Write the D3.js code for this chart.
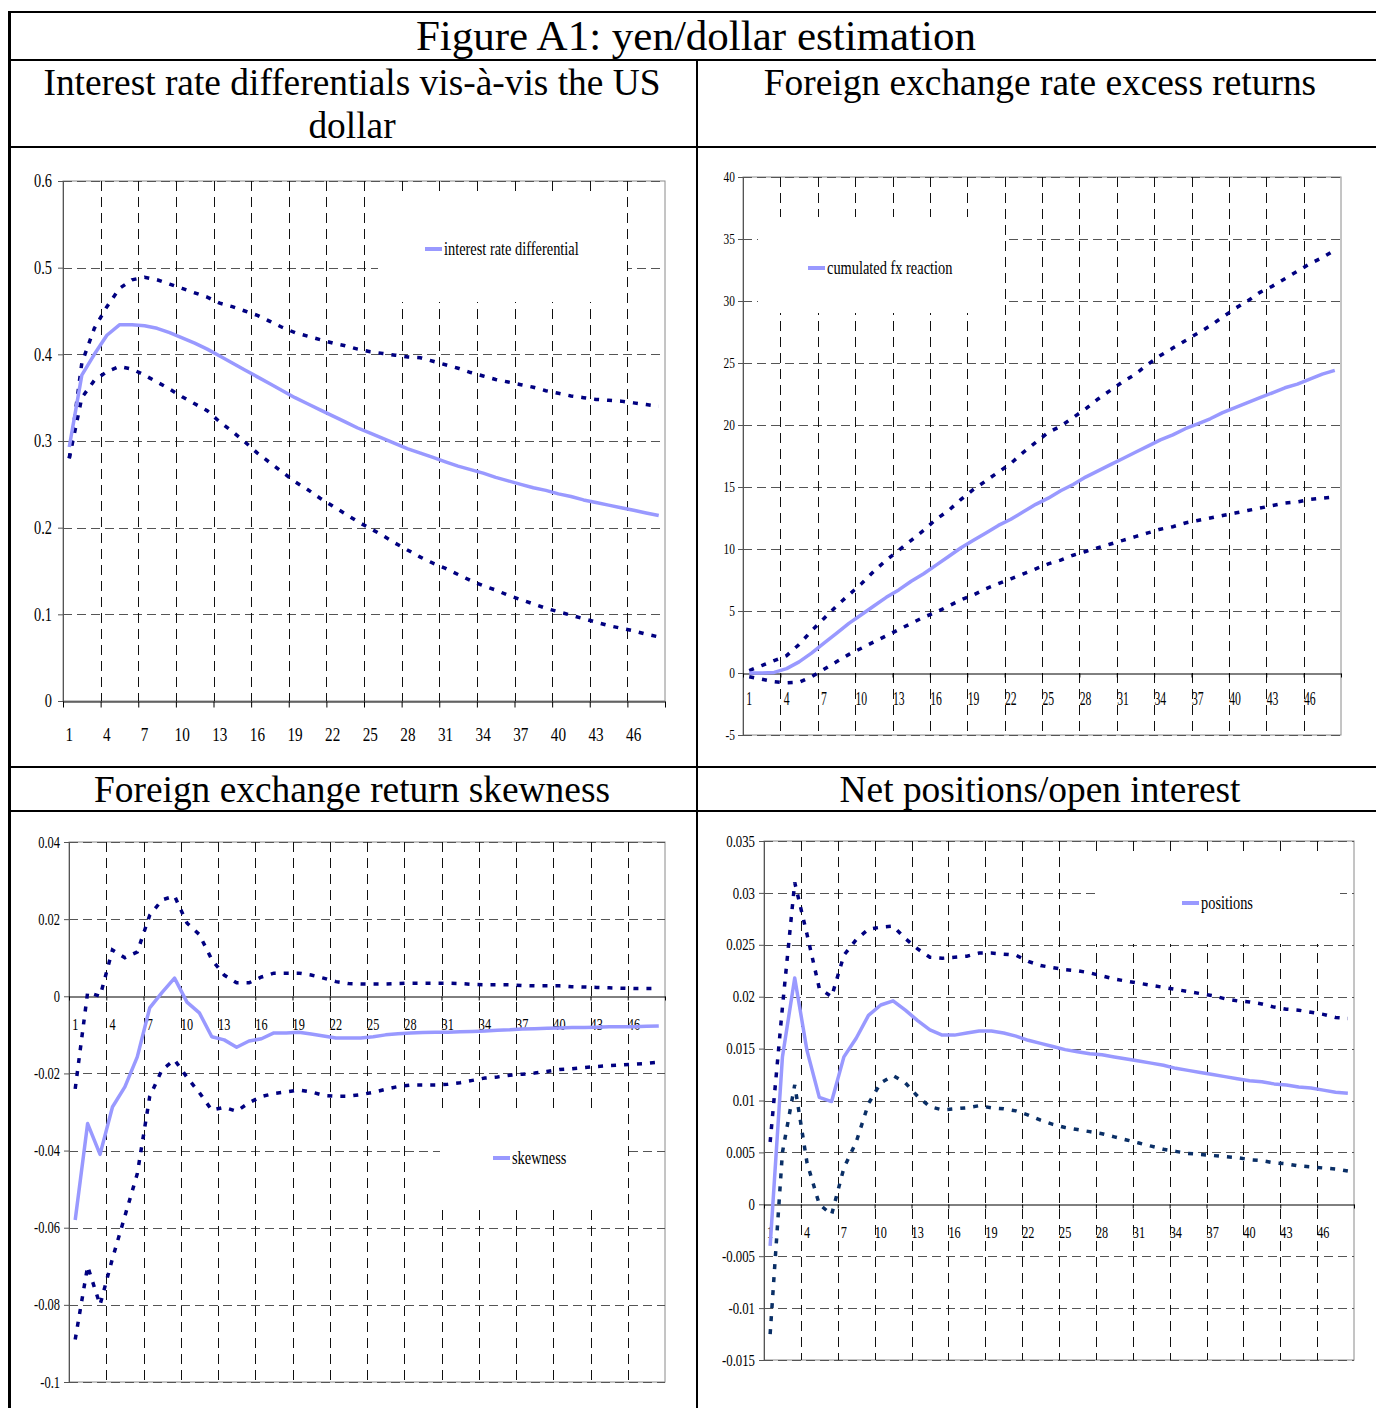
<!DOCTYPE html>
<html><head><meta charset="utf-8">
<script src="https://cdn.jsdelivr.net/npm/d3@7"></script>
<style>
body{margin:0;background:#fff}
text{font-family:"Liberation Serif","Times New Roman",serif;fill:#000}
</style>
</head><body>
<svg id="c" width="1376" height="1408"></svg>
<script>
// ---------- data ----------
const categories = [1,2,3,4,5,6,7,8,9,10,11,12,13,14,15,16,17,18,19,20,21,22,23,24,25,26,27,28,29,30,31,32,33,34,35,36,37,38,39,40,41,42,43,44,45,46,47,48];
const xTickLabels = [1,4,7,10,13,16,19,22,25,28,31,34,37,40,43,46];

const figureTitle = "Figure A1: yen/dollar estimation";
const panelTitles = [
  ["Interest rate differentials vis-à-vis the US", "dollar"],
  ["Foreign exchange rate excess returns"],
  ["Foreign exchange return skewness"],
  ["Net positions/open interest"]
];
const legendNames = ["interest rate differential", "cumulated fx reaction", "skewness", "positions"];

// Panel 1: interest rate differential
const irdTicks = [0,0.1,0.2,0.3,0.4,0.5,0.6];
const irdMid = [0.293,0.376,0.400,0.422,0.434,0.434,0.433,0.430,0.425,0.419,0.413,0.406,0.398,0.390,0.382,0.374,0.366,0.358,0.350,0.343,0.336,0.329,0.322,0.315,0.309,0.303,0.297,0.291,0.286,0.281,0.276,0.271,0.267,0.263,0.258,0.254,0.250,0.246,0.243,0.239,0.236,0.232,0.229,0.226,0.223,0.220,0.217,0.214];
const irdUpper = [0.280,0.390,0.430,0.455,0.476,0.486,0.489,0.486,0.481,0.476,0.471,0.466,0.459,0.455,0.450,0.445,0.438,0.431,0.425,0.421,0.417,0.413,0.410,0.406,0.403,0.401,0.399,0.397,0.396,0.392,0.388,0.384,0.379,0.375,0.371,0.368,0.365,0.362,0.358,0.355,0.352,0.350,0.348,0.347,0.346,0.344,0.342,0.340];
const irdLower = [0.280,0.350,0.370,0.380,0.386,0.383,0.376,0.368,0.360,0.351,0.343,0.335,0.322,0.311,0.299,0.286,0.275,0.264,0.253,0.244,0.234,0.225,0.216,0.207,0.199,0.191,0.182,0.174,0.166,0.159,0.153,0.146,0.139,0.133,0.128,0.122,0.117,0.112,0.107,0.103,0.099,0.095,0.091,0.087,0.084,0.081,0.077,0.074];

// Panel 2: cumulated fx reaction
const fxTicks = [-5,0,5,10,15,20,25,30,35,40];
const fxMid = [0,0,0.05,0.35,0.9,1.6,2.4,3.2,4.0,4.7,5.4,6.1,6.7,7.4,8.0,8.7,9.4,10.1,10.7,11.3,11.9,12.4,13.0,13.6,14.1,14.7,15.2,15.8,16.3,16.8,17.3,17.8,18.3,18.8,19.2,19.7,20.1,20.5,21.0,21.4,21.8,22.2,22.6,23.0,23.3,23.7,24.1,24.4];
const fxUpper = [0.2,0.6,1.0,1.4,2.3,3.4,4.4,5.4,6.3,7.2,8.2,9.1,9.9,10.7,11.5,12.4,13.1,14.0,14.8,15.5,16.2,16.9,17.8,18.6,19.4,19.9,20.6,21.3,22.1,22.8,23.5,24.1,24.9,25.6,26.2,26.8,27.4,28.0,28.7,29.4,30.0,30.7,31.2,31.8,32.4,33.0,33.5,34.1];
const fxLower = [-0.3,-0.5,-0.7,-0.8,-0.75,-0.3,0.3,0.9,1.5,2.0,2.5,3.0,3.5,4.0,4.5,4.9,5.4,5.9,6.3,6.8,7.2,7.6,8.0,8.4,8.8,9.1,9.5,9.8,10.1,10.4,10.7,11.0,11.3,11.6,11.8,12.1,12.3,12.5,12.7,12.9,13.1,13.3,13.5,13.7,13.8,14.0,14.1,14.2];

// Panel 3: skewness
const skTicks = [-0.1,-0.08,-0.06,-0.04,-0.02,0,0.02,0.04];
const skMid = [-0.058,-0.033,-0.041,-0.0287,-0.0235,-0.0157,-0.003,0.001,0.0047,-0.0015,-0.0043,-0.0105,-0.0113,-0.0132,-0.0116,-0.011,-0.0095,-0.0095,-0.0093,-0.0098,-0.0103,-0.0108,-0.0108,-0.0108,-0.0105,-0.0100,-0.0097,-0.0095,-0.0094,-0.0093,-0.0093,-0.0092,-0.0091,-0.0090,-0.0088,-0.0087,-0.0085,-0.0084,-0.0083,-0.0082,-0.0081,-0.0081,-0.0080,-0.0079,-0.0079,-0.0079,-0.0078,-0.0077];
const skUpper = [-0.024,0.001,0.0,0.012,0.010,0.0115,0.021,0.025,0.026,0.019,0.016,0.0095,0.0055,0.0035,0.0035,0.005,0.006,0.006,0.006,0.0055,0.0047,0.0038,0.0033,0.0032,0.0032,0.0032,0.0033,0.0034,0.0034,0.0034,0.0034,0.0033,0.0031,0.0030,0.0030,0.0030,0.0028,0.0027,0.0027,0.0027,0.0025,0.0024,0.0023,0.0022,0.0021,0.0020,0.0020,0.0020];
const skLower = [-0.089,-0.070,-0.080,-0.068,-0.057,-0.046,-0.026,-0.019,-0.0165,-0.021,-0.025,-0.0295,-0.0288,-0.0298,-0.0276,-0.026,-0.0252,-0.0248,-0.0243,-0.0248,-0.0257,-0.0259,-0.0259,-0.0255,-0.0249,-0.0241,-0.0234,-0.0230,-0.0230,-0.0230,-0.0228,-0.0224,-0.0218,-0.0212,-0.0209,-0.0205,-0.0202,-0.0199,-0.0195,-0.0190,-0.0188,-0.0185,-0.0182,-0.0180,-0.0178,-0.0176,-0.0174,-0.0171];

// Panel 4: positions
const posTicks = [-0.015,-0.01,-0.005,0,0.005,0.01,0.015,0.02,0.025,0.03,0.035];
const posMid = [-0.004,0.0142,0.0218,0.0148,0.0103,0.0099,0.0142,0.016,0.0182,0.0192,0.0196,0.0187,0.0177,0.0168,0.0163,0.0163,0.0165,0.0167,0.0167,0.0165,0.0162,0.0158,0.0155,0.0152,0.0149,0.0147,0.0145,0.0144,0.0142,0.0140,0.0138,0.0136,0.0134,0.0131,0.0129,0.0127,0.0125,0.0123,0.0121,0.0119,0.0118,0.0116,0.0115,0.0113,0.0112,0.0110,0.0108,0.0107];
const posUpper = [0.006,0.019,0.031,0.026,0.0208,0.020,0.024,0.0255,0.0265,0.0267,0.0268,0.0256,0.0246,0.0238,0.0237,0.0238,0.0239,0.0242,0.0242,0.0241,0.0240,0.0234,0.0230,0.0228,0.0226,0.0225,0.0223,0.0220,0.0217,0.0215,0.0213,0.0211,0.0209,0.0207,0.0205,0.0203,0.0201,0.0198,0.0196,0.0195,0.0193,0.0190,0.0188,0.0187,0.0185,0.0183,0.0180,0.0179];
const posLower = [-0.0125,0.005,0.0115,0.004,0.0,-0.001,0.0035,0.006,0.0097,0.0117,0.0124,0.0117,0.0104,0.0094,0.0091,0.0092,0.0093,0.0095,0.0093,0.0092,0.0090,0.0086,0.0081,0.0077,0.0074,0.0072,0.0070,0.0068,0.0065,0.0062,0.0059,0.0056,0.0053,0.0051,0.0049,0.0048,0.0047,0.0046,0.0045,0.0043,0.0042,0.0040,0.0039,0.0037,0.0036,0.0035,0.0034,0.0032];

// ---------- drawing ----------
const svg = d3.select("#c");
svg.append("rect").attr("width",1376).attr("height",1408).attr("fill","#fff");

// table frame
const frame = svg.append("g").attr("stroke","#000").attr("fill","none");
frame.append("line").attr("x1",9.5).attr("x2",9.5).attr("y1",11).attr("y2",1408).attr("stroke-width",3);
frame.append("line").attr("x1",8).attr("x2",1376).attr("y1",12).attr("y2",12).attr("stroke-width",2);
frame.append("line").attr("x1",8).attr("x2",1376).attr("y1",60).attr("y2",60).attr("stroke-width",2);
frame.append("line").attr("x1",8).attr("x2",1376).attr("y1",147).attr("y2",147).attr("stroke-width",2);
frame.append("line").attr("x1",8).attr("x2",1376).attr("y1",767).attr("y2",767).attr("stroke-width",2);
frame.append("line").attr("x1",8).attr("x2",1376).attr("y1",811).attr("y2",811).attr("stroke-width",2);
frame.append("line").attr("x1",697).attr("x2",697).attr("y1",60).attr("y2",1408).attr("stroke-width",2);

function title(x, y, str, size){
  svg.append("text").attr("x",x).attr("y",y).attr("text-anchor","middle")
    .attr("font-size",size).text(str);
}
title(696, 50, figureTitle, 43);
title(352, 95, panelTitles[0][0], 37.4);
title(352, 138, panelTitles[0][1], 37.4);
title(1040, 95, panelTitles[1][0], 37.4);
title(352, 802, panelTitles[2][0], 37.4);
title(1040, 802, panelTitles[3][0], 37.4);

const fmt = d => String(+d.toFixed(4));

const panels = [
  {x0:63,x1:665,y0:181,y1:701,domain:[0,0.6],ticks:irdTicks,axisValue:0,
   mid:irdMid,upper:irdUpper,lower:irdLower,lowerColor:"#000080",
   yFont:18,ySx:0.8,yGap:11,xFont:19,xSx:0.8,xOff:26,xTick:6,
   legend:{name:legendNames[0],box:[378,193,627,302],lx:425,ly:249}},
  {x0:743,x1:1341,y0:177,y1:735,domain:[-5,40],ticks:fxTicks,axisValue:0,
   mid:fxMid,upper:fxUpper,lower:fxLower,lowerColor:"#000080",
   yFont:15,ySx:0.76,yGap:8,xFont:18,xSx:0.65,xOff:19,xTick:4,
   legend:{name:legendNames[1],box:[758,217,1004,313],lx:808,ly:268}},
  {x0:69,x1:665,y0:842,y1:1382,domain:[-0.1,0.04],ticks:skTicks,axisValue:0,
   mid:skMid,upper:skUpper,lower:skLower,lowerColor:"#000080",
   yFont:16,ySx:0.78,yGap:9,xFont:17,xSx:0.72,xOff:21,xTick:4,
   legend:{name:legendNames[2],box:[440,1112,628,1205],lx:493,ly:1158}},
  {x0:764,x1:1354,y0:841,y1:1360,domain:[-0.015,0.035],ticks:posTicks,axisValue:0,
   mid:posMid,upper:posUpper,lower:posLower,lowerColor:"#0a2f66",
   yFont:16,ySx:0.8,yGap:9,xFont:17,xSx:0.72,xOff:21,xTick:4,
   legend:{name:legendNames[3],box:[1095,857,1340,944],lx:1182,ly:903}}
];

panels.forEach(p => {
  const g = svg.append("g");
  const x = d3.scaleBand().domain(categories).range([p.x0,p.x1]).padding(0);
  const xi = d3.scaleLinear().domain([0,categories.length]).range([p.x0,p.x1]);
  const y = d3.scaleLinear().domain(p.domain).range([p.y1,p.y0]);
  const cx = c => x(c) + x.bandwidth()/2;

  g.append("rect").attr("x",p.x0).attr("y",p.y0).attr("width",p.x1-p.x0).attr("height",p.y1-p.y0)
    .attr("fill","none").attr("stroke","#8a8a8a").attr("stroke-width",1);

  g.append("g").selectAll("line").data(p.ticks.filter(t => t !== p.axisValue)).join("line")
    .attr("x1",p.x0).attr("x2",p.x1).attr("y1",d=>Math.round(y(d))+0.5).attr("y2",d=>Math.round(y(d))+0.5)
    .attr("stroke","#555").attr("stroke-width",1).attr("stroke-dasharray","9,5");

  const bounds = d3.range(3, categories.length, 3);
  g.append("g").selectAll("line").data(bounds).join("line")
    .attr("x1",d=>Math.round(xi(d))+0.5).attr("x2",d=>Math.round(xi(d))+0.5)
    .attr("y1",p.y0).attr("y2",p.y1)
    .attr("stroke","#111").attr("stroke-width",1).attr("stroke-dasharray","10,6");

  const L = p.legend;
  g.append("rect").attr("x",L.box[0]).attr("y",L.box[1]).attr("width",L.box[2]-L.box[0]).attr("height",L.box[3]-L.box[1])
    .attr("fill","#fff");
  g.append("line").attr("x1",L.lx).attr("x2",L.lx+17).attr("y1",L.ly).attr("y2",L.ly)
    .attr("stroke","#9999ff").attr("stroke-width",4);
  g.append("text").attr("transform",`translate(${L.lx+19},${L.ly}) scale(0.8,1)`)
    .attr("dy","0.33em").attr("font-size",18).text(L.name);

  const yAxis = g.append("g").attr("transform",`translate(${p.x0},0)`)
    .call(d3.axisLeft(y).tickValues(p.ticks).tickFormat(fmt).tickSize(5).tickPadding(p.yGap/p.ySx - 5));
  yAxis.select(".domain").attr("stroke","#555");
  yAxis.selectAll(".tick line").attr("stroke","#555");
  yAxis.selectAll("text").attr("font-size",p.yFont).attr("font-family",null)
    .attr("transform",`scale(${p.ySx},1)`);

  const ya = Math.round(y(p.axisValue))+0.5;
  const xTicks = g.append("g").attr("transform",`translate(0,${ya})`)
    .call(d3.axisBottom(xi).tickValues(d3.range(0, categories.length+1, 3)).tickFormat("").tickSize(p.xTick).tickSizeOuter(0));
  xTicks.select(".domain").attr("stroke","#000");
  xTicks.selectAll(".tick line").attr("stroke","#000");
  const xLab = g.append("g").attr("transform",`translate(0,${ya})`)
    .call(d3.axisBottom(x).tickValues(xTickLabels).tickSize(0).tickPadding(p.xOff));
  xLab.select(".domain").remove();
  xLab.selectAll("text").attr("font-size",p.xFont).attr("font-family",null)
    .attr("transform",`scale(${p.xSx},1)`);

  const line = d3.line().x((d,i)=>cx(categories[i])).y(d=>y(d));
  g.append("path").datum(p.upper).attr("d",line).attr("fill","none")
    .attr("stroke","#000080").attr("stroke-width",3.5).attr("stroke-dasharray","5,8");
  g.append("path").datum(p.lower).attr("d",line).attr("fill","none")
    .attr("stroke",p.lowerColor).attr("stroke-width",3.5).attr("stroke-dasharray","5,8");
  g.append("path").datum(p.mid).attr("d",line).attr("fill","none")
    .attr("stroke","#9999ff").attr("stroke-width",3.5).attr("stroke-linejoin","round");
});
</script>
</body></html>
